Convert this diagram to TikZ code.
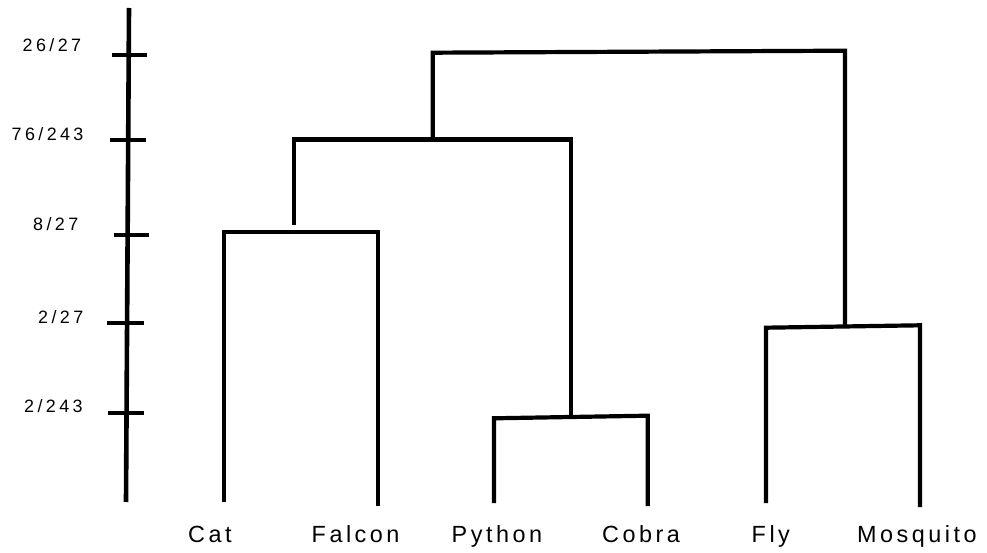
\documentclass[tikz,border=0pt]{standalone}
\usepackage{fontspec}
\setmainfont{Liberation Sans}
\newfontfamily\leaffont[LetterSpace=15]{Liberation Sans}
\newfontfamily\tickfont[LetterSpace=19]{Liberation Sans}
\begin{document}
\begin{tikzpicture}[x=1pt,y=-1pt,line join=miter,
  branch/.style={line width=4.2pt,black},
  axisline/.style={line width=4.6pt,black},
  tickmark/.style={line width=4pt,black},
  leaflabel/.style={anchor=base west,inner sep=0pt,font=\leaffont\fontsize{23.4}{28}\selectfont},
  ticklabel/.style={anchor=base west,inner sep=0pt,font=\tickfont\fontsize{17.9}{21}\selectfont}]
\useasboundingbox (0,0) rectangle (987,553);
% axis
\coordinate (axtop) at (129,8);
\coordinate (axbot) at (126,502);
\draw[axisline] (axtop) -- (axbot);
\coordinate (t1l) at (112,55);  \coordinate (t1r) at (147,55);
\coordinate (t2l) at (110,140); \coordinate (t2r) at (146,140);
\coordinate (t3l) at (113.5,235); \coordinate (t3r) at (149,235);
\coordinate (t4l) at (107,323); \coordinate (t4r) at (143.5,323);
\coordinate (t5l) at (108,413); \coordinate (t5r) at (144,413);
\draw[tickmark] (t1l) -- (t1r);
\draw[tickmark] (t2l) -- (t2r);
\draw[tickmark] (t3l) -- (t3r);
\draw[tickmark] (t4l) -- (t4r);
\draw[tickmark] (t5l) -- (t5r);
\node[ticklabel] (l1) at (22.5,52) {26/27};
\node[ticklabel] (l2) at (11.5,141) {76/243};
\node[ticklabel] (l3) at (33,231) {8/27};
\node[ticklabel] (l4) at (38,323) {2/27};
\node[ticklabel] (l5) at (24,412) {2/243};
% leaves
\coordinate (cat) at (224,502);   \coordinate (catj) at (224,232.3);
\coordinate (fal) at (377.7,506); \coordinate (falj) at (377.7,232.3);
\coordinate (py) at (494,503);    \coordinate (pyj) at (494,418.3);
\coordinate (co) at (647.7,506);  \coordinate (coj) at (647.7,415.7);
\coordinate (fly) at (766,503);   \coordinate (flyj) at (766,327.7);
\coordinate (mos) at (920,507);   \coordinate (mosj) at (920,325.3);
% internal joins
\coordinate (cfstem) at (294.3,225);
\coordinate (cftop) at (294.3,139.5);
\coordinate (pcstem) at (570.7,416.7);
\coordinate (pctop) at (570.7,139.5);
\coordinate (midlow) at (432.7,139.5);
\coordinate (midtop) at (432.7,52.7);
\coordinate (rtop) at (845,50.7);
\coordinate (rlow) at (845,326.5);
\draw[branch] (cat) -- (catj) -- (falj) -- (fal);
\draw[branch] (py) -- (pyj) -- (coj) -- (co);
\draw[branch] (fly) -- (flyj) -- (mosj) -- (mos);
\draw[branch] (cfstem) -- (cftop) -- (pctop) -- (pcstem);
\draw[branch] (midlow) -- (midtop) -- (rtop) -- (rlow);
% leaf labels
\node[leaflabel] (ncat) at (188,542.5) {Cat};
\node[leaflabel] (nfal) at (311.5,542.5) {Falcon};
\node[leaflabel] (npy) at (451.5,542.5) {Python};
\node[leaflabel] (nco) at (602,542.5) {Cobra};
\node[leaflabel] (nfly) at (751.5,542.5) {Fly};
\node[leaflabel] (nmos) at (857,542.5) {Mosquito};
\end{tikzpicture}
\end{document}
